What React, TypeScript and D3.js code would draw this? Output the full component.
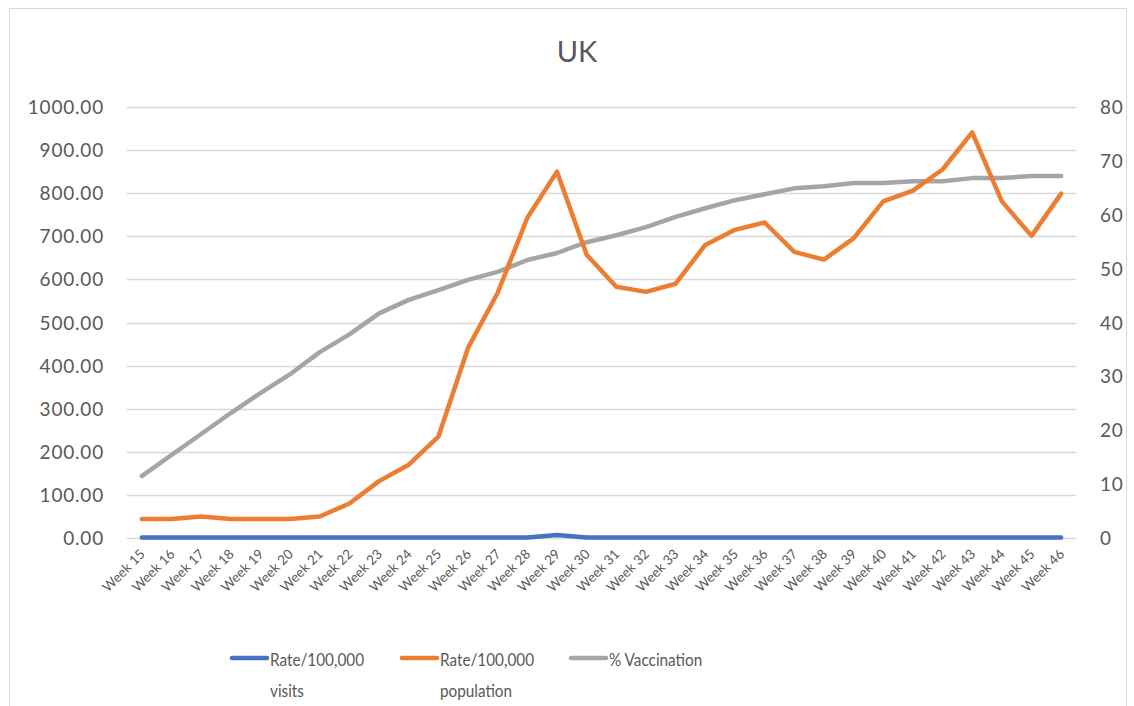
import React, { useRef, useEffect } from 'react';
import * as d3 from 'd3';

const weeks = d3.range(15, 47).map(w => `Week ${w}`);

// Rate/100,000 visits (left axis)
const visits = [1, 1, 1, 1, 1, 1, 1, 1, 1, 1, 1, 1, 1, 1, 7, 1, 1, 1, 1, 1, 1, 1, 1, 1, 1, 1, 1, 1, 1, 1, 1, 1];
// Rate/100,000 population (left axis)
const population = [44, 44, 50, 44, 44, 44, 50, 80, 132, 170, 235, 441, 569, 743, 850, 657, 583, 571, 590, 680, 715, 732, 664, 646, 695, 781, 806, 855, 941, 781, 701, 799];
// % Vaccination (right axis)
const vaccination = [11.5, 15.4, 19.3, 23.2, 26.9, 30.4, 34.5, 37.8, 41.7, 44.2, 46, 47.9, 49.4, 51.6, 52.9, 54.9, 56.2, 57.7, 59.6, 61.2, 62.7, 63.8, 64.9, 65.3, 65.9, 65.9, 66.2, 66.2, 66.8, 66.8, 67.2, 67.2];

const leftTicks = d3.range(0, 1001, 100);
const rightTicks = d3.range(0, 81, 10);

const W = 1134;
const H = 706;
const FONT = 'Lato, "Open Sans", sans-serif';
const TEXT = '#595959';

const App = () => {
  const svgRef = useRef(null);

  useEffect(() => {
    document.body.style.margin = '0';
    const svg = d3.select(svgRef.current);
    svg.selectAll('*').remove();

    const margin = { left: 127, right: 1076, top: 107, bottom: 538 };

    const x = d3.scaleBand().domain(weeks).range([margin.left, margin.right]);
    const yL = d3.scaleLinear().domain([0, 1000]).range([margin.bottom, margin.top]);
    const yR = d3.scaleLinear().domain([0, 80]).range([margin.bottom, margin.top]);
    const cx = d => x(d) + x.bandwidth() / 2;

    // chart frame
    svg.append('rect')
      .attr('x', 9.5).attr('y', 8.5)
      .attr('width', 1117).attr('height', 710)
      .attr('fill', 'white').attr('stroke', '#D9D9D9');

    // title
    svg.append('text')
      .attr('x', 577)
      .attr('y', 62)
      .attr('text-anchor', 'middle')
      .attr('font-family', FONT)
      .attr('font-size', 29)
      .attr('fill', TEXT)
      .text('UK');

    // gridlines
    svg.append('g').selectAll('line')
      .data(leftTicks)
      .enter().append('line')
      .attr('x1', margin.left).attr('x2', margin.right)
      .attr('y1', d => Math.round(yL(d)) + 0.5).attr('y2', d => Math.round(yL(d)) + 0.5)
      .attr('stroke', '#D9D9D9').attr('stroke-width', 1.3);

    // left axis labels
    svg.append('g').selectAll('text')
      .data(leftTicks)
      .enter().append('text')
      .attr('x', 104).attr('y', d => yL(d) + 7)
      .attr('text-anchor', 'end')
      .attr('font-family', FONT).attr('font-size', 19)
      .attr('letter-spacing', 0.8)
      .attr('fill', TEXT)
      .text(d => d3.format('.2f')(d));

    // right axis labels
    svg.append('g').selectAll('text')
      .data(rightTicks)
      .enter().append('text')
      .attr('x', 1100).attr('y', d => yR(d) + 7)
      .attr('font-family', FONT).attr('font-size', 19)
      .attr('letter-spacing', 0.8)
      .attr('fill', TEXT)
      .text(d => d);

    // x labels
    svg.append('g').selectAll('text')
      .data(weeks)
      .enter().append('text')
      .attr('transform', d => `translate(${cx(d) + 4},${margin.bottom + 17}) rotate(-45)`)
      .attr('text-anchor', 'end')
      .attr('font-family', FONT).attr('font-size', 13.5)
      .attr('fill', TEXT)
      .text(d => d);

    const lineL = d3.line<number>().x((d, i) => cx(weeks[i])).y(d => yL(d));
    const lineR = d3.line<number>().x((d, i) => cx(weeks[i])).y(d => yR(d));

    const series = [
      { name: ['Rate/100,000', 'visits'], data: visits, gen: lineL, color: '#4472C4' },
      { name: ['Rate/100,000', 'population'], data: population, gen: lineL, color: '#ED7D31' },
      { name: ['% Vaccination'], data: vaccination, gen: lineR, color: '#A5A5A5' },
    ];

    svg.append('g').selectAll('path')
      .data([series[2], series[0], series[1]])
      .enter().append('path')
      .attr('d', s => s.gen(s.data))
      .attr('fill', 'none')
      .attr('stroke', s => s.color)
      .attr('stroke-width', 4.5)
      .attr('stroke-linejoin', 'round')
      .attr('stroke-linecap', 'round');

    // legend
    const legendX = [230, 400, 569];
    const legend = svg.append('g').selectAll('g')
      .data(series)
      .enter().append('g')
      .attr('transform', (d, i) => `translate(${legendX[i]},658)`);

    legend.append('line')
      .attr('x1', 2).attr('x2', 37)
      .attr('stroke', d => d.color)
      .attr('stroke-width', 4.5)
      .attr('stroke-linecap', 'round');

    legend.append('text')
      .attr('x', 40).attr('y', 8)
      .attr('font-family', FONT).attr('font-size', 18)
      .attr('fill', TEXT)
      .attr('transform', 'translate(40,0) scale(0.85,1) translate(-40,0)')
      .selectAll('tspan')
      .data(d => d.name)
      .enter().append('tspan')
      .attr('x', 40)
      .attr('dy', (d, i) => (i === 0 ? 0 : 31))
      .text(d => d);
  }, []);

  return <svg ref={svgRef} width={W} height={H} style={{ display: 'block' }}></svg>;
};

export default App;
